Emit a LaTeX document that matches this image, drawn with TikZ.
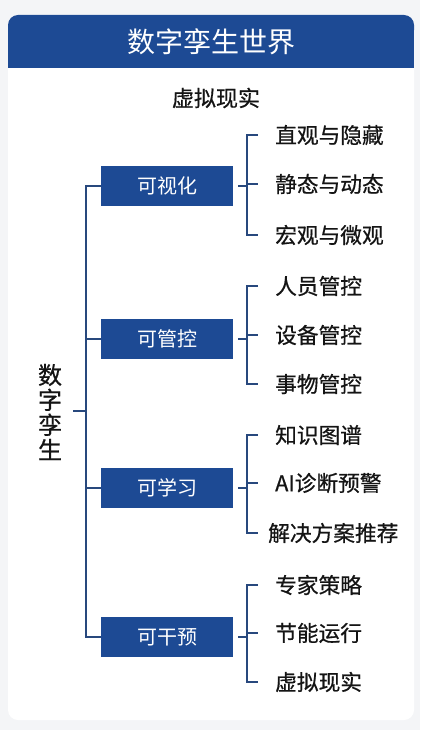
\documentclass[tikz,border=0pt]{standalone}
\usepackage{fontspec}
\setmainfont{Noto Sans CJK SC}
\newfontfamily\cjk{Noto Sans CJK SC}
\newfontfamily\cjkm[FakeBold=0.6]{Noto Sans CJK SC}
\definecolor{bgc}{RGB}{244,245,247}
\definecolor{hdr}{RGB}{29,74,148}
\definecolor{boxc}{RGB}{29,74,148}
\definecolor{lnc}{RGB}{40,72,125}
\definecolor{txt}{RGB}{20,20,20}
\begin{document}
\begin{tikzpicture}[x=1pt,y=-1pt,
  ln/.style={draw=lnc,line width=1.8pt},
  catbox/.style={fill=boxc,text=white,minimum width=132pt,minimum height=40pt,inner sep=0pt,font=\cjk\fontsize{20}{22}\selectfont},
  leaf/.style={anchor=west,inner sep=0pt,text=txt,font=\cjkm\fontsize{21.7}{23}\selectfont}]
\useasboundingbox (0,0) rectangle (420,730);
\fill[bgc] (0,0) rectangle (420,730);
\fill[white,rounded corners=10pt] (8,15) rectangle (414,720);
\fill[hdr,rounded corners=10pt] (8,15) rectangle (414,40);
\fill[hdr] (8,30) rectangle (414,68);
\node[text=white,font=\cjk\fontsize{28}{30}\selectfont] (title) at (211,42) {数字孪生世界};
\node[text=txt,font=\cjkm\fontsize{22}{24}\selectfont] (sub) at (216,98) {虚拟现实};
% root
\node[text=txt,align=center,inner sep=0pt,font=\cjkm\fontsize{24}{25}\selectfont] (root) at (50,412) {数\\字\\孪\\生};
% category boxes
\node[catbox] (b1) at (167,186) {可视化};
\node[catbox] (b2) at (167,339) {可管控};
\node[catbox] (b3) at (167,488) {可学习};
\node[catbox] (b4) at (167,637) {可干预};
% leaves
\node[leaf] (l11) at (275,135) {直观与隐藏};
\node[leaf] (l12) at (275,184) {静态与动态};
\node[leaf] (l13) at (275,235) {宏观与微观};
\node[leaf] (l21) at (275,286) {人员管控};
\node[leaf] (l22) at (275,335) {设备管控};
\node[leaf] (l23) at (275,384) {事物管控};
\node[leaf] (l31) at (275,435) {知识图谱};
\node[leaf] (l32) at (275,483) {AI诊断预警};
\node[leaf] (l33) at (268,533) {解决方案推荐};
\node[leaf] (l41) at (275,585) {专家策略};
\node[leaf] (l42) at (275,633) {节能运行};
\node[leaf] (l43) at (275,682) {虚拟现实};
% trunk
\coordinate (rt) at (73,411);
\coordinate (tk) at (86,411);
\draw[ln] (rt) -- (tk);
\draw[ln] (b1.west) -| (86,637) -- (b4.west);
\draw[ln] (b2.west) -- (86,339);
\draw[ln] (b3.west) -- (86,488);
% brackets
\foreach \b/\ya/\yb/\yc/\ym in {b1/135/184/235/186, b2/286/335/384/339, b3/435/483/533/488, b4/585/633/682/637}{
  \draw[ln] ([xshift=5pt]\b.east) -- (247,\ym);
  \draw[ln] (258,\ya) -- (247,\ya) -- (247,\yc) -- (258,\yc);
  \draw[ln] (247,\yb) -- (258,\yb);
}
\end{tikzpicture}
\end{document}
